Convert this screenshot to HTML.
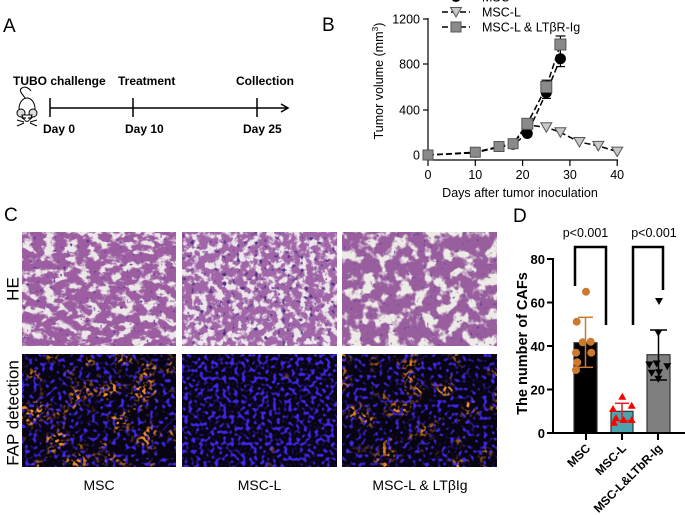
<!DOCTYPE html>
<html><head><meta charset="utf-8">
<style>
html,body{margin:0;padding:0;background:#fff;}
svg{display:block;}
text{font-family:"Liberation Sans",Arial,sans-serif;}
</style></head>
<body>
<svg width="685" height="515" viewBox="0 0 685 515" xmlns="http://www.w3.org/2000/svg">
<defs>
 <filter id="he1" x="0" y="0" width="1" height="1" color-interpolation-filters="sRGB">
  <feTurbulence type="fractalNoise" baseFrequency="0.09 0.13" numOctaves="3" seed="3" result="n"/>
  <feComponentTransfer in="n" result="t"><feFuncR type="linear" slope="7" intercept="-2.5"/></feComponentTransfer>
  <feColorMatrix in="t" type="matrix" values="-0.32 0 0 0 0.93  -0.54 0 0 0 0.91  -0.28 0 0 0 0.91  0 0 0 0 1" result="base"/>
  <feTurbulence type="fractalNoise" baseFrequency="0.3" numOctaves="1" seed="7" result="t2"/>
  <feColorMatrix in="t2" type="matrix" values="0 0 0 0 0.38  0 0 0 0 0.22  0 0 0 0 0.58  7 0 0 0 -4.5" result="nuc"/>
  <feMerge><feMergeNode in="base"/><feMergeNode in="nuc"/></feMerge>
 </filter>
 <filter id="he2" x="0" y="0" width="1" height="1" color-interpolation-filters="sRGB">
  <feTurbulence type="fractalNoise" baseFrequency="0.13" numOctaves="3" seed="13" result="n"/>
  <feComponentTransfer in="n" result="t"><feFuncR type="linear" slope="7" intercept="-2.6"/></feComponentTransfer>
  <feColorMatrix in="t" type="matrix" values="-0.3 0 0 0 0.93  -0.5 0 0 0 0.9  -0.26 0 0 0 0.92  0 0 0 0 1" result="base"/>
  <feTurbulence type="fractalNoise" baseFrequency="0.22" numOctaves="1" seed="17" result="t2"/>
  <feColorMatrix in="t2" type="matrix" values="0 0 0 0 0.32  0 0 0 0 0.2  0 0 0 0 0.52  7 0 0 0 -4.3" result="nuc"/>
  <feMerge><feMergeNode in="base"/><feMergeNode in="nuc"/></feMerge>
 </filter>
 <filter id="he3" x="0" y="0" width="1" height="1" color-interpolation-filters="sRGB">
  <feTurbulence type="fractalNoise" baseFrequency="0.08" numOctaves="3" seed="23" result="n"/>
  <feComponentTransfer in="n" result="t"><feFuncR type="linear" slope="7" intercept="-2.5"/></feComponentTransfer>
  <feColorMatrix in="t" type="matrix" values="-0.33 0 0 0 0.93  -0.55 0 0 0 0.92  -0.28 0 0 0 0.9  0 0 0 0 1" result="base"/>
  <feTurbulence type="fractalNoise" baseFrequency="0.3" numOctaves="1" seed="29" result="t2"/>
  <feColorMatrix in="t2" type="matrix" values="0 0 0 0 0.42  0 0 0 0 0.26  0 0 0 0 0.6  7 0 0 0 -4.5" result="nuc"/>
  <feMerge><feMergeNode in="base"/><feMergeNode in="nuc"/></feMerge>
 </filter>
 <filter id="fap1" x="0" y="0" width="1" height="1" color-interpolation-filters="sRGB">
  <feFlood flood-color="#080412" result="bg"/>
  <feTurbulence type="fractalNoise" baseFrequency="0.24" numOctaves="1" seed="11" result="n1"/>
  <feColorMatrix in="n1" type="matrix" values="0 0 0 0 0.24  0 0 0 0 0.15  0 0 0 0 0.92  6 0 0 0 -3.2" result="blue"/>
  <feTurbulence type="fractalNoise" baseFrequency="0.045" numOctaves="3" seed="21" result="n2"/>
  <feColorMatrix in="n2" type="matrix" values="0 0 0 0 0.95  0 0 0 0 0.55  0 0 0 0 0.15  5 0 0 0 -2.5" result="org"/>
  <feTurbulence type="fractalNoise" baseFrequency="0.3" numOctaves="1" seed="31" result="n3"/>
  <feColorMatrix in="n3" type="matrix" values="0 0 0 0 0  0 0 0 0 0  0 0 0 0 0  7 0 0 0 -3.4" result="sp"/>
  <feComposite in="org" in2="sp" operator="in" result="org2"/>
  <feMerge><feMergeNode in="bg"/><feMergeNode in="blue"/><feMergeNode in="org2"/></feMerge>
 </filter>
 <filter id="fap2" x="0" y="0" width="1" height="1" color-interpolation-filters="sRGB">
  <feFlood flood-color="#0a0516" result="bg"/>
  <feTurbulence type="fractalNoise" baseFrequency="0.26" numOctaves="1" seed="41" result="n1"/>
  <feColorMatrix in="n1" type="matrix" values="0 0 0 0 0.24  0 0 0 0 0.15  0 0 0 0 0.92  6 0 0 0 -3.0" result="blue"/>
  <feTurbulence type="fractalNoise" baseFrequency="0.05" numOctaves="3" seed="43" result="n2"/>
  <feColorMatrix in="n2" type="matrix" values="0 0 0 0 0.9  0 0 0 0 0.45  0 0 0 0 0.15  5 0 0 0 -3.9" result="org"/>
  <feMerge><feMergeNode in="bg"/><feMergeNode in="blue"/><feMergeNode in="org"/></feMerge>
 </filter>
 <filter id="fap3" x="0" y="0" width="1" height="1" color-interpolation-filters="sRGB">
  <feFlood flood-color="#080412" result="bg"/>
  <feTurbulence type="fractalNoise" baseFrequency="0.24" numOctaves="1" seed="51" result="n1"/>
  <feColorMatrix in="n1" type="matrix" values="0 0 0 0 0.24  0 0 0 0 0.15  0 0 0 0 0.92  6 0 0 0 -3.2" result="blue"/>
  <feTurbulence type="fractalNoise" baseFrequency="0.045" numOctaves="3" seed="57" result="n2"/>
  <feColorMatrix in="n2" type="matrix" values="0 0 0 0 0.95  0 0 0 0 0.55  0 0 0 0 0.15  5 0 0 0 -2.7" result="org"/>
  <feTurbulence type="fractalNoise" baseFrequency="0.3" numOctaves="1" seed="61" result="n3"/>
  <feColorMatrix in="n3" type="matrix" values="0 0 0 0 0  0 0 0 0 0  0 0 0 0 0  7 0 0 0 -3.4" result="sp"/>
  <feComposite in="org" in2="sp" operator="in" result="org2"/>
  <feMerge><feMergeNode in="bg"/><feMergeNode in="blue"/><feMergeNode in="org2"/></feMerge>
 </filter>
</defs>

<!-- Panel A -->
<text x="3" y="32" font-size="19">A</text>
<g font-size="12" font-weight="bold">
 <text x="13" y="85">TUBO challenge</text>
 <text x="118" y="85">Treatment</text>
 <text x="236" y="85">Collection</text>
 <text x="43" y="133">Day 0</text>
 <text x="125" y="133">Day 10</text>
 <text x="243" y="133">Day 25</text>
</g>
<g stroke="#000" stroke-width="1.5" fill="none">
 <line x1="50" y1="108" x2="287" y2="108"/>
 <polyline points="281,104 288,108 281,112"/>
 <line x1="50" y1="98" x2="50" y2="117"/>
 <line x1="133" y1="98" x2="133" y2="117"/>
 <line x1="257" y1="98" x2="257" y2="117"/>
</g>
<!-- mouse -->
<g stroke="#000" stroke-width="1" fill="#fff">
 <path d="M26,99 C22,94 18,90 22,88 C25,86 29,88 31,91" fill="none"/>
 <ellipse cx="27" cy="109" rx="8" ry="11"/>
 <circle cx="21" cy="113" r="4" fill="#ddd"/>
 <circle cx="33" cy="113" r="4" fill="#ddd"/>
 <path d="M22,115 Q27,128 32,115 Z"/>
 <line x1="24" y1="122" x2="17" y2="120"/>
 <line x1="24" y1="123" x2="17" y2="126"/>
 <line x1="30" y1="122" x2="37" y2="120"/>
 <line x1="30" y1="123" x2="37" y2="126"/>
</g>
<circle cx="25" cy="118" r="0.9" fill="#000"/>
<circle cx="29" cy="118" r="0.9" fill="#000"/>

<!-- Panel B -->
<text x="322" y="31" font-size="19">B</text>
<g stroke="#000" stroke-width="1.2" fill="none">
 <line x1="428" y1="18" x2="428" y2="160"/>
 <line x1="423" y1="19" x2="428" y2="19"/>
 <line x1="423" y1="64" x2="428" y2="64"/>
 <line x1="423" y1="110" x2="428" y2="110"/>
 <line x1="423" y1="155" x2="428" y2="155"/>
 <line x1="428" y1="160" x2="618" y2="160"/>
 <line x1="428" y1="160" x2="428" y2="166"/>
 <line x1="475.3" y1="160" x2="475.3" y2="166"/>
 <line x1="522.6" y1="160" x2="522.6" y2="166"/>
 <line x1="569.9" y1="160" x2="569.9" y2="166"/>
 <line x1="617.2" y1="160" x2="617.2" y2="166"/>
</g>
<g font-size="12.5" text-anchor="end">
 <text x="420" y="23.5">1200</text>
 <text x="420" y="68.5">800</text>
 <text x="420" y="114.5">400</text>
 <text x="420" y="159.5">0</text>
</g>
<g font-size="12.5" text-anchor="middle">
 <text x="428" y="179">0</text>
 <text x="475.3" y="179">10</text>
 <text x="522.6" y="179">20</text>
 <text x="569.9" y="179">30</text>
 <text x="617.2" y="179">40</text>
 <text x="520" y="197">Days after tumor inoculation</text>
</g>
<text transform="translate(383,81) rotate(-90)" font-size="12.5" text-anchor="middle">Tumor volume (mm<tspan font-size="8.5" dy="-5">3</tspan><tspan dy="5">)</tspan></text>

<!-- series MSC-L -->
<polyline fill="none" stroke="#000" stroke-width="1.5" stroke-dasharray="6,3" points="428,155 475.3,152.7 499,147.1 513.1,144.8 527.3,125 546.3,127.2 560.4,132.3 579.4,142 598.3,145.9 617.2,151.6"/>
<g fill="#c8c8c8" stroke="#555" stroke-width="1">
 <path d="M540.8,122.7 h11 l-5.5,9.5 z"/>
 <path d="M554.9,127.8 h11 l-5.5,9.5 z"/>
 <path d="M573.9,137.5 h11 l-5.5,9.5 z"/>
 <path d="M592.8,141.4 h11 l-5.5,9.5 z"/>
 <path d="M611.7,147.1 h11 l-5.5,9.5 z"/>
</g>
<!-- series MSC -->
<polyline fill="none" stroke="#000" stroke-width="1.5" stroke-dasharray="6,3" points="428,155 475.3,152.7 499,147.1 513.1,144.8 527.3,133.5 546.3,92.7 560.4,58.7"/>
<g stroke="#000" stroke-width="1.2">
 <line x1="560.4" y1="50.8" x2="560.4" y2="66.6"/><line x1="556" y1="66.6" x2="565" y2="66.6"/>
 <line x1="546.3" y1="87" x2="546.3" y2="98.4"/><line x1="542" y1="98.4" x2="551" y2="98.4"/>
</g>
<g fill="#000">
 <circle cx="428" cy="155" r="5"/><circle cx="475.3" cy="152.7" r="5"/><circle cx="499" cy="147.1" r="5"/>
 <circle cx="513.1" cy="144.8" r="5"/><circle cx="527.3" cy="133.5" r="5.5"/><circle cx="546.3" cy="92.7" r="5.5"/>
 <circle cx="560.4" cy="58.7" r="5.5"/>
</g>
<!-- series LTbR-Ig -->
<polyline fill="none" stroke="#000" stroke-width="1.5" stroke-dasharray="6,3" points="428,155 475.3,152.2 499,146.5 513.1,143.7 527.3,123.8 546.3,87 560.4,44.5"/>
<g stroke="#000" stroke-width="1.2">
 <line x1="560.4" y1="36" x2="560.4" y2="53"/><line x1="555.5" y1="36" x2="565.5" y2="36"/>
 <line x1="546.3" y1="80.2" x2="546.3" y2="93.8"/><line x1="541.5" y1="80.2" x2="551" y2="80.2"/>
</g>
<g fill="#8a8a8a" stroke="#555" stroke-width="1">
 <rect x="423" y="150" width="10" height="10"/><rect x="470.3" y="147.2" width="10" height="10"/>
 <rect x="494" y="141.5" width="10" height="10"/><rect x="508.1" y="138.7" width="10" height="10"/>
 <rect x="521.8" y="118.3" width="11" height="11"/><rect x="540.8" y="81.5" width="11" height="11"/>
 <rect x="554.9" y="39" width="11" height="11"/>
</g>
<!-- legend -->
<g stroke="#000" stroke-width="1.5" stroke-dasharray="6,3" fill="none">
 <line x1="442" y1="-3" x2="470" y2="-3"/>
 <line x1="442" y1="12" x2="470" y2="12"/>
 <line x1="442" y1="27" x2="470" y2="27"/>
</g>
<circle cx="456" cy="-3" r="5" fill="#000"/>
<path d="M450.5,7.5 h11 l-5.5,9.5 z" fill="#c8c8c8" stroke="#555"/>
<rect x="451" y="22" width="10" height="10" fill="#8a8a8a" stroke="#555"/>
<g font-size="12.5">
 <text x="482" y="1.5">MSC</text>
 <text x="482" y="16.5">MSC-L</text>
 <text x="482" y="31.5">MSC-L &amp; LTβR-Ig</text>
</g>

<!-- Panel C -->
<text x="4" y="221" font-size="19">C</text>
<rect x="22" y="232" width="154" height="114" filter="url(#he1)"/>
<rect x="182" y="232" width="155" height="114" filter="url(#he2)"/>
<rect x="342" y="232" width="155" height="114" filter="url(#he3)"/>
<rect x="22" y="354" width="154" height="113" filter="url(#fap1)"/>
<rect x="182" y="354" width="155" height="113" filter="url(#fap2)"/>
<rect x="342" y="354" width="155" height="113" filter="url(#fap3)"/>
<text transform="translate(18.5,289) rotate(-90)" font-size="17" text-anchor="middle">HE</text>
<text transform="translate(18.5,413) rotate(-90)" font-size="17" text-anchor="middle">FAP detection</text>
<g font-size="14" text-anchor="middle">
 <text x="99" y="490">MSC</text>
 <text x="259.5" y="490">MSC-L</text>
 <text x="420" y="490">MSC-L &amp; LTβIg</text>
</g>

<!-- Panel D -->
<text x="513" y="222" font-size="19">D</text>
<g font-size="12.5" text-anchor="middle">
 <text x="585.5" y="237">p&lt;0.001</text>
 <text x="654" y="237">p&lt;0.001</text>
</g>
<g stroke="#000" stroke-width="2.5" fill="none">
 <polyline points="575,286 575,247 606,247 606,325"/>
 <polyline points="633,325 633,247 663,247 663,290"/>
</g>
<!-- bars -->
<rect x="574" y="342.7" width="23" height="90.3" fill="#000" stroke="#333" stroke-width="1.2"/>
<rect x="611" y="411.3" width="22" height="21.7" fill="#4ca3ad" stroke="#333" stroke-width="1.2"/>
<rect x="647" y="354.7" width="23" height="78.3" fill="#7f7f7f" stroke="#333" stroke-width="1.2"/>
<!-- axes -->
<g stroke="#000" stroke-width="2" fill="none">
 <line x1="553" y1="258" x2="553" y2="434"/>
 <line x1="552" y1="433" x2="685" y2="433"/>
 <line x1="547" y1="259" x2="553" y2="259"/>
 <line x1="547" y1="302.5" x2="553" y2="302.5"/>
 <line x1="547" y1="346" x2="553" y2="346"/>
 <line x1="547" y1="389.5" x2="553" y2="389.5"/>
 <line x1="547" y1="433" x2="553" y2="433"/>
 <line x1="586" y1="433" x2="586" y2="440"/>
 <line x1="622" y1="433" x2="622" y2="440"/>
 <line x1="658" y1="433" x2="658" y2="440"/>
</g>
<g font-size="13" font-weight="bold" text-anchor="end">
 <text x="545" y="264">80</text>
 <text x="545" y="307.5">60</text>
 <text x="545" y="351">40</text>
 <text x="545" y="394.5">20</text>
 <text x="545" y="438">0</text>
</g>
<text transform="translate(527,343.5) rotate(-90)" font-size="14.5" font-weight="bold" text-anchor="middle">The number of CAFs</text>
<g font-size="12" font-weight="bold" text-anchor="end">
 <text transform="translate(591,449) rotate(-45)">MSC</text>
 <text transform="translate(627,449) rotate(-45)">MSC-L</text>
 <text transform="translate(663,449) rotate(-45)">MSC-L&amp;LTbR-Ig</text>
</g>
<!-- error bars -->
<g stroke="#c87a30" stroke-width="1.5">
 <line x1="585.5" y1="317.3" x2="585.5" y2="367.3"/>
 <line x1="578" y1="317.3" x2="593" y2="317.3"/>
 <line x1="578" y1="367.3" x2="593" y2="367.3"/>
</g>
<g fill="#cc7a2e">
 <circle cx="586" cy="291.7" r="4"/><circle cx="576.7" cy="321.7" r="4"/>
 <circle cx="582.7" cy="342.3" r="4"/><circle cx="590.7" cy="341.7" r="4"/>
 <circle cx="576" cy="352.7" r="4"/><circle cx="591.3" cy="352.7" r="4"/>
 <circle cx="577.3" cy="362.3" r="4"/><circle cx="576" cy="370" r="4"/>
</g>
<g stroke="#e02020" stroke-width="1.5">
 <line x1="622" y1="403.3" x2="622" y2="420.7"/>
 <line x1="615" y1="403.3" x2="629" y2="403.3"/>
 <line x1="615" y1="420.7" x2="629" y2="420.7"/>
</g>
<g fill="#ff0000">
 <path d="M622.3,392.7 l4,7 h-8 z"/><path d="M613,405 l4,7 h-8 z"/>
 <path d="M631.7,401.7 l4,7 h-8 z"/><path d="M616,414 l4,7 h-8 z"/>
 <path d="M623.7,416 l4,7 h-8 z"/><path d="M631.7,416 l4,7 h-8 z"/>
 <path d="M614,418.7 l4,7 h-8 z"/>
</g>
<g stroke="#000" stroke-width="1.5">
 <line x1="658.5" y1="330" x2="658.5" y2="380"/>
 <line x1="650" y1="330" x2="667" y2="330"/>
 <line x1="650" y1="380" x2="667" y2="380"/>
</g>
<g fill="#000">
 <path d="M655,298 h8 l-4,7 z"/><path d="M654.3,329.8 h8 l-4,7 z"/>
 <path d="M645.3,361.5 h8 l-4,7 z"/><path d="M652.7,360.5 h8 l-4,7 z"/>
 <path d="M663.3,363.2 h8 l-4,7 z"/><path d="M647.7,369.8 h8 l-4,7 z"/>
 <path d="M655,369.2 h8 l-4,7 z"/><path d="M654.3,375.8 h8 l-4,7 z"/>
</g>
</svg>
</body></html>
